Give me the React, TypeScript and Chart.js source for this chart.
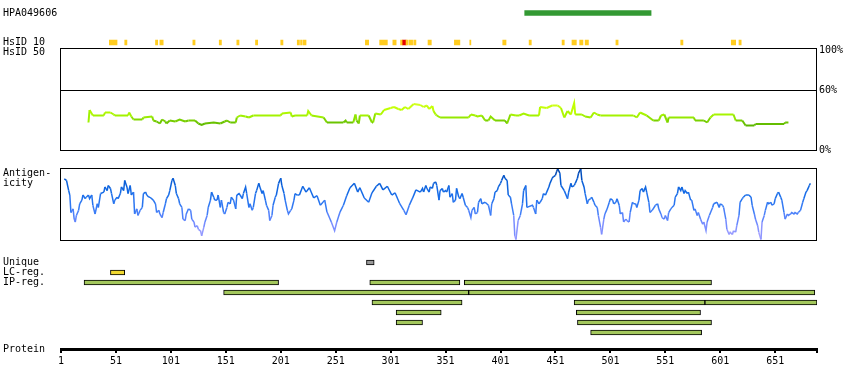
import React, { useEffect, useRef } from 'react';
import { Chart, registerables } from 'chart.js';

Chart.register(...registerables);

// ---------------- data ----------------
const proteinLength = 689;
const proteinTicks = [1, 51, 101, 151, 201, 251, 301, 351, 401, 451, 501, 551, 601, 651];

const antigenLabel = 'HPA049606';
const antigenRange: [number, number] = [423, 538];

const hsidRows = ['HsID 10', 'HsID 50'];
const hsid10Start = [45, 59, 87, 91, 121, 145, 161, 178, 201, 216, 219, 221, 278, 291, 303, 310, 312, 315, 318, 322, 335, 359, 373, 403, 427, 457, 466, 473, 478, 506, 565, 611, 618];
const hsid10End = [52, 61, 89, 94, 123, 147, 163, 180, 203, 218, 220, 224, 281, 298, 306, 312, 315, 317, 321, 324, 338, 364, 374, 406, 429, 459, 470, 476, 481, 508, 567, 615, 620];
const hsid10HighStarts = [312];

const similarityTicks = [0, 60, 100];
// [residue, % similarity]
const similarity: [number, number][] = [
  [26, 27.5], [27, 40], [30, 34.5], [40, 34.5], [41, 37.5], [46, 37.5], [49, 35.5], [50, 34.5], [62, 34.5], [63, 37.5],
  [65, 33.5], [67, 30.5], [75, 30.5], [76, 32.5], [84, 33.5], [85, 29.5], [88, 28.5], [91, 26.5], [93, 30.5], [96, 28.5],
  [97, 26.5], [100, 29.5], [105, 28.5], [109, 30.5], [114, 28.5], [117, 29.5], [123, 29.5], [126, 26.5], [129, 25], [132, 26.5],
  [140, 27.5], [146, 26.5], [150, 28.5], [152, 29.5], [155, 27.5], [160, 27.5], [161, 32.5], [164, 34.5], [169, 33.5], [172, 32.5],
  [176, 34.5], [201, 34.5], [202, 36.5], [210, 37.5], [211, 33.5], [214, 34.5], [225, 34.5], [226, 39], [229, 34.5], [240, 32.5],
  [243, 27.5], [258, 27.5], [260, 29.5], [261, 27.5], [267, 27.5], [269, 35.5], [270, 29.5], [272, 26.5], [273, 34.5], [281, 34.5],
  [284, 27.5], [285, 27.5], [287, 36.5], [292, 35.5], [295, 40], [301, 42], [304, 43], [308, 41], [311, 40], [314, 43],
  [317, 41], [322, 46], [328, 45], [331, 43], [334, 44.5], [336, 41], [339, 44], [340, 39], [342, 35.5], [343, 34.5],
  [346, 32.5], [372, 32.5], [374, 35.5], [378, 34.5], [380, 33.5], [384, 34.5], [387, 29.5], [390, 29.5], [392, 33.5], [396, 29.5],
  [405, 29.5], [407, 26.5], [410, 35.5], [415, 34.5], [418, 34.5], [422, 36.5], [427, 34.5], [436, 34.5], [437, 43], [443, 42],
  [448, 44.5], [453, 44.5], [456, 42], [459, 32.5], [462, 39], [465, 35.5], [468, 47], [469, 35.5], [475, 35.5], [478, 33.5],
  [483, 32.5], [486, 37.5], [489, 35.5], [492, 34.5], [522, 34.5], [525, 32.5], [528, 37.5], [534, 34.5], [540, 29.5], [545, 29.5],
  [547, 34.5], [550, 35.5], [553, 27.5], [554, 32.5], [577, 32.5], [578, 29.5], [586, 29.5], [589, 27.5], [592, 32.5], [595, 35.5],
  [613, 35.5], [615, 29.5], [621, 29.5], [624, 24.5], [632, 24.5], [633, 26], [659, 26], [660, 27.5], [663, 27.5],
];

const antigenicityLabel = ['Antigen-', 'icity'];
// [residue, antigenicity score 0..100]
const antigenicity: [number, number][] = [
  [4, 85], [6, 83], [8, 69], [9, 63], [10, 39], [12, 44], [13, 30], [14, 26], [15, 35], [17, 42],
  [18, 51], [20, 56], [21, 63], [23, 58], [24, 60], [26, 63], [27, 58], [29, 63], [30, 49], [32, 37],
  [34, 51], [35, 46], [37, 65], [40, 67], [41, 74], [43, 69], [44, 76], [46, 72], [47, 65], [49, 51],
  [50, 56], [52, 60], [53, 58], [55, 65], [56, 74], [58, 69], [59, 83], [61, 74], [62, 65], [64, 76],
  [65, 63], [67, 67], [68, 37], [70, 44], [71, 35], [73, 42], [75, 46], [76, 65], [78, 67], [79, 63],
  [81, 60], [82, 60], [85, 56], [87, 51], [88, 39], [90, 42], [91, 37], [93, 32], [94, 39], [96, 51],
  [97, 58], [99, 63], [100, 69], [102, 83], [103, 86], [105, 76], [106, 65], [108, 58], [109, 51], [111, 46],
  [112, 30], [114, 28], [115, 37], [117, 44], [119, 42], [120, 30], [122, 26], [123, 19], [125, 21], [126, 16],
  [128, 14], [129, 7], [131, 19], [132, 26], [134, 35], [135, 46], [137, 56], [138, 67], [140, 60], [141, 56],
  [143, 56], [144, 63], [146, 46], [147, 56], [149, 39], [150, 37], [152, 46], [153, 53], [155, 51], [156, 60],
  [158, 56], [160, 44], [161, 63], [163, 65], [164, 63], [166, 58], [167, 65], [169, 74], [170, 65], [172, 46],
  [173, 51], [175, 42], [176, 46], [178, 65], [179, 69], [181, 79], [182, 74], [184, 65], [185, 69], [187, 56],
  [188, 49], [190, 42], [191, 28], [193, 35], [194, 49], [196, 60], [197, 63], [199, 79], [201, 86], [202, 76],
  [204, 65], [205, 56], [207, 42], [208, 37], [210, 42], [211, 44], [213, 56], [214, 65], [216, 63], [218, 63],
  [221, 75], [224, 67], [227, 73], [231, 59], [234, 62], [237, 49], [241, 56], [243, 40], [247, 26], [250, 14],
  [252, 26], [255, 40], [258, 49], [261, 62], [264, 73], [268, 79], [271, 67], [273, 73], [277, 59], [281, 53],
  [284, 66], [288, 75], [291, 79], [294, 70], [298, 75], [302, 63], [305, 66], [309, 52], [313, 42], [315, 36],
  [318, 49], [321, 59], [324, 70],
  [328, 67], [330, 72], [331, 67], [333, 76], [334, 72], [336, 67], [337, 74], [339, 72], [340, 79], [342, 81],
  [343, 76], [345, 56], [346, 69], [348, 72], [349, 67], [351, 69], [352, 67], [354, 76], [355, 60], [357, 65],
  [358, 53], [360, 56], [361, 72], [363, 60], [364, 58], [366, 65], [367, 60], [369, 49], [371, 46], [372, 42],
  [374, 32], [375, 42], [377, 46], [378, 37], [380, 39], [381, 53], [383, 58], [384, 51], [387, 53], [390, 49],
  [392, 35], [393, 51], [395, 58], [396, 67], [398, 69], [399, 74], [401, 79], [402, 83], [404, 90], [405, 86],
  [407, 83], [408, 63], [410, 60], [411, 51], [413, 35], [414, 7], [415, 2], [417, 28], [419, 35], [421, 51],
  [422, 69], [424, 76], [425, 46], [430, 49], [431, 46], [433, 37], [434, 56], [436, 51], [437, 53], [439, 58],
  [440, 65], [442, 63], [443, 67], [445, 74], [446, 79], [448, 86], [449, 88], [451, 90], [452, 95], [453, 99],
  [455, 93], [456, 76], [459, 69], [462, 58], [463, 67], [465, 79], [466, 74], [468, 76], [469, 79], [471, 86],
  [472, 93], [474, 99], [475, 83], [477, 74], [478, 65], [480, 51], [481, 56], [483, 58], [484, 60], [486, 53],
  [487, 49], [489, 46], [490, 35], [492, 19], [493, 9], [495, 30], [496, 37], [498, 44], [500, 53], [501, 58],
  [503, 56], [504, 51], [506, 53], [507, 58], [509, 49], [510, 37], [512, 39], [513, 26], [515, 30], [516, 28],
  [518, 26], [519, 39], [521, 53], [522, 51], [524, 51], [525, 46], [527, 56], [528, 69], [530, 72], [531, 67],
  [533, 74], [534, 67], [536, 53], [537, 39], [539, 42], [542, 49], [544, 51], [545, 44], [547, 37], [548, 32],
  [550, 30], [551, 35], [553, 28], [554, 39], [556, 44], [557, 46], [559, 49], [560, 60], [562, 65], [563, 74],
  [565, 69], [566, 74], [568, 65], [569, 69], [571, 65], [572, 67], [574, 56], [575, 56], [577, 42], [578, 44],
  [580, 35], [581, 39], [583, 30], [585, 23], [586, 26], [588, 14], [589, 26], [591, 35], [594, 46], [595, 51],
  [598, 53], [600, 46], [601, 51], [603, 49], [604, 46], [606, 30], [607, 16], [609, 9], [610, 12], [612, 9],
  [613, 14], [615, 12], [616, 21], [618, 35], [619, 53], [621, 58], [622, 60], [624, 63], [627, 63], [629, 60],
  [630, 49], [632, 37], [633, 30], [635, 21], [636, 12], [638, 2], [639, 26], [641, 35], [642, 42], [644, 53],
  [645, 51], [647, 53], [648, 49], [650, 51], [651, 58], [653, 65], [654, 67], [656, 60], [657, 56], [659, 39],
  [660, 30], [662, 37], [663, 35], [665, 37], [666, 39], [668, 37], [669, 39], [671, 37], [672, 39], [674, 42],
  [676, 53], [677, 58], [679, 67], [680, 69], [682, 76], [683, 79],
];

const regionRows = ['Unique', 'LC-reg.', 'IP-reg.', 'IP-reg. 2', 'IP-reg. 3', 'IP-reg. 4', 'IP-reg. 5', 'IP-reg. 6'];
const regionRowLabels = ['Unique', 'LC-reg.', 'IP-reg.'];
const uniqueRow = [0];
const uniqueStart = [279];
const uniqueEnd = [286];
const lcRow = [1];
const lcStart = [46];
const lcEnd = [59];
const ipRow = [2, 2, 2, 3, 3, 4, 4, 4, 5, 5, 6, 6, 7];
const ipStart = [22, 282, 368, 149, 372, 284, 468, 587, 306, 470, 306, 471, 483];
const ipEnd = [199, 364, 593, 372, 687, 366, 587, 689, 347, 583, 330, 593, 584];

const proteinLabel = 'Protein';

// ---------------- layout / style ----------------
const W = 850;
const H = 390;
const PLOT_LEFT = 61;
const PLOT_RIGHT = 817;
const LABEL_X = 3;
const FONT = { family: '"DejaVu Sans Mono", monospace', size: 10, lineHeight: 1 };

type RGB = [number, number, number];
function lerpColor(stops: [number, RGB][], v: number): string {
  if (v <= stops[0][0]) return `rgb(${stops[0][1].join(',')})`;
  for (let i = 1; i < stops.length; i++) {
    const [v1, c1] = stops[i];
    const [v0, c0] = stops[i - 1];
    if (v <= v1) {
      const t = (v - v0) / (v1 - v0);
      const c = c0.map((a, k) => Math.round(a + (c1[k] - a) * t));
      return `rgb(${c.join(',')})`;
    }
  }
  return `rgb(${stops[stops.length - 1][1].join(',')})`;
}
const simStops: [number, RGB][] = [
  [24.5, [92, 182, 0]],
  [28.5, [112, 200, 0]],
  [33.5, [158, 240, 0]],
  [41, [192, 255, 0]],
  [47, [214, 255, 40]],
];
const antStops: [number, RGB][] = [
  [2, [176, 166, 255]],
  [25, [110, 136, 255]],
  [45, [56, 124, 246]],
  [65, [22, 108, 232]],
  [85, [4, 88, 208]],
  [100, [0, 62, 160]],
];

function base(top: number, bottom: number, padLeft: number, padRight: number): any {
  return {
    responsive: false,
    animation: false,
    devicePixelRatio: 1,
    events: [],
    layout: { padding: { left: padLeft, right: padRight, top, bottom: H - bottom } },
    plugins: { legend: { display: false }, tooltip: { enabled: false } },
  };
}

const hiddenX = () => ({ type: 'linear', min: 1, max: proteinLength, display: false });

function leftLabelAxis(type: string, extra: any = {}, tickExtra: any = {}): any {
  return {
    type,
    position: 'left',
    grid: { display: false },
    border: { display: false },
    ticks: { crossAlign: 'far', color: '#000', font: FONT, autoSkip: false, padding: 0, ...tickExtra },
    afterFit: (s: any) => {
      s.width = PLOT_LEFT - LABEL_X;
    },
    ...extra,
  };
}

const framePlugin = {
  id: 'frame',
  afterDatasetsDraw(chart: any) {
    const { ctx, chartArea: a } = chart;
    ctx.save();
    ctx.strokeStyle = '#000';
    ctx.lineWidth = 1;
    ctx.strokeRect(a.left - 0.5, a.top + 0.5, a.right - a.left, a.bottom - a.top - 1);
    ctx.restore();
  },
};

function antigenConfig(): any {
  return {
    type: 'bar',
    data: {
      labels: [antigenLabel],
      datasets: [
        {
          data: [{ x: antigenRange, y: antigenLabel }],
          backgroundColor: '#339933',
          borderWidth: 0,
          barThickness: 5,
        },
      ],
    },
    options: {
      ...base(8, 18, LABEL_X, W - PLOT_RIGHT),
      indexAxis: 'y',
      scales: { x: hiddenX(), y: leftLabelAxis('category') },
    },
  };
}

function hsidConfig(): any {
  return {
    type: 'bar',
    data: {
      labels: hsidRows,
      datasets: [
        {
          data: hsid10Start.map((s, i) => ({ x: [s, hsid10End[i]], y: hsidRows[0] })),
          backgroundColor: hsid10Start.map((s) => (hsid10HighStarts.includes(s) ? '#e60000' : '#ffcc1f')),
          borderWidth: 0,
          barThickness: 5,
          grouped: false,
        },
      ],
    },
    options: {
      ...base(37.5, 57.5, LABEL_X, W - PLOT_RIGHT),
      indexAxis: 'y',
      scales: { x: hiddenX(), y: leftLabelAxis('category') },
    },
  };
}

function similarityConfig(): any {
  return {
    type: 'line',
    data: {
      datasets: [
        {
          data: similarity.map(([x, y]) => ({ x, y })),
          borderColor: '#99ee00',
          borderWidth: 2,
          pointRadius: 0,
          tension: 0,
          segment: {
            borderColor: (ctx: any) => lerpColor(simStops, (ctx.p0.parsed.y + ctx.p1.parsed.y) / 2),
          },
        },
      ],
    },
    options: {
      ...base(48, 151, PLOT_LEFT, 0),
      scales: {
        x: hiddenX(),
        y: {
          type: 'linear',
          position: 'right',
          min: -1,
          max: 102,
          afterFit: (s: any) => {
            s.width = W - PLOT_RIGHT;
          },
          afterBuildTicks: (s: any) => {
            s.ticks = similarityTicks.map((v) => ({ value: v }));
          },
          ticks: {
            crossAlign: 'near',
            padding: 2,
            color: '#000',
            font: FONT,
            autoSkip: false,
            callback: (v: any) => `${v}%`,
          },
          grid: {
            drawTicks: false,
            lineWidth: 1,
            color: (ctx: any) => (ctx.tick && ctx.tick.value === 60 ? '#000' : 'rgba(0,0,0,0)'),
          },
          border: { display: false },
        },
      },
    },
    plugins: [framePlugin],
  };
}

function antigenicityConfig(): any {
  return {
    type: 'line',
    data: {
      datasets: [
        {
          data: antigenicity.map(([x, y]) => ({ x, y })),
          borderColor: '#1a6ee6',
          borderWidth: 1.5,
          pointRadius: 0,
          tension: 0,
          segment: {
            borderColor: (ctx: any) => lerpColor(antStops, (ctx.p0.parsed.y + ctx.p1.parsed.y) / 2),
          },
        },
      ],
    },
    options: {
      ...base(168, 241, LABEL_X, W - PLOT_RIGHT),
      scales: {
        x: hiddenX(),
        y: leftLabelAxis(
          'linear',
          {
            min: 0,
            max: 100,
            afterBuildTicks: (s: any) => {
              s.ticks = [{ value: 86 }];
            },
          },
          { callback: () => antigenicityLabel },
        ),
      },
    },
    plugins: [framePlugin],
  };
}

function regionsConfig(): any {
  const mk = (rows: number[], starts: number[], ends: number[]) =>
    starts.map((s, i) => ({ x: [s, ends[i]], y: regionRows[rows[i]] }));
  const common = { borderColor: '#000', borderWidth: 1, borderSkipped: false, barThickness: 5, grouped: false };
  return {
    type: 'bar',
    data: {
      labels: regionRows,
      datasets: [
        { ...common, data: mk(uniqueRow, uniqueStart, uniqueEnd), backgroundColor: '#999999' },
        { ...common, data: mk(lcRow, lcStart, lcEnd), backgroundColor: '#f0d830' },
        { ...common, data: mk(ipRow, ipStart, ipEnd), backgroundColor: '#a3c75c' },
      ],
    },
    options: {
      ...base(257.5, 337.5, LABEL_X, W - PLOT_RIGHT),
      indexAxis: 'y',
      scales: {
        x: hiddenX(),
        y: leftLabelAxis('category', {}, {
          callback: (_v: any, i: number) => (i < regionRowLabels.length ? regionRowLabels[i] : ''),
        }),
      },
    },
  };
}

function proteinConfig(): any {
  return {
    type: 'line',
    data: { datasets: [{ data: [] }] },
    options: {
      ...base(300, H - 11 - 30, LABEL_X, W - PLOT_RIGHT),
      layout: { padding: { left: LABEL_X, right: W - PLOT_RIGHT, top: 300, bottom: 11 } },
      scales: {
        x: {
          type: 'linear',
          position: 'bottom',
          min: 1,
          max: proteinLength,
          afterBuildTicks: (s: any) => {
            s.ticks = [...proteinTicks, proteinLength].map((v) => ({ value: v }));
          },
          afterFit: (s: any) => {
            s.height = 30;
          },
          grid: { drawOnChartArea: false, drawTicks: true, tickLength: 4, lineWidth: 2, color: '#000' },
          border: { display: true, width: 3, color: '#000' },
          ticks: {
            color: '#000',
            font: FONT,
            padding: 3,
            maxRotation: 0,
            autoSkip: false,
            callback: (v: any) => (v === proteinLength ? '' : String(v)),
          },
        },
        y: leftLabelAxis(
          'linear',
          {
            min: 0,
            max: 1,
            afterBuildTicks: (s: any) => {
              s.ticks = [{ value: 0 }];
            },
          },
          { callback: () => proteinLabel },
        ),
      },
    },
  };
}

export default function App() {
  const canvases = useRef<(HTMLCanvasElement | null)[]>([]);
  useEffect(() => {
    const configs = [
      antigenConfig(),
      hsidConfig(),
      similarityConfig(),
      antigenicityConfig(),
      regionsConfig(),
      proteinConfig(),
    ];
    const charts = configs.map((cfg, i) => new Chart(canvases.current[i] as HTMLCanvasElement, cfg));
    return () => charts.forEach((c) => c.destroy());
  }, []);
  return (
    <div style={{ position: 'absolute', left: 0, top: 0, width: W, height: H, background: '#fff', overflow: 'hidden' }}>
      {[0, 1, 2, 3, 4, 5].map((i) => (
        <canvas
          key={i}
          ref={(el) => {
            canvases.current[i] = el;
          }}
          width={W}
          height={H}
          style={{ position: 'absolute', left: 0, top: 0, width: W, height: H }}
        />
      ))}
    </div>
  );
}
